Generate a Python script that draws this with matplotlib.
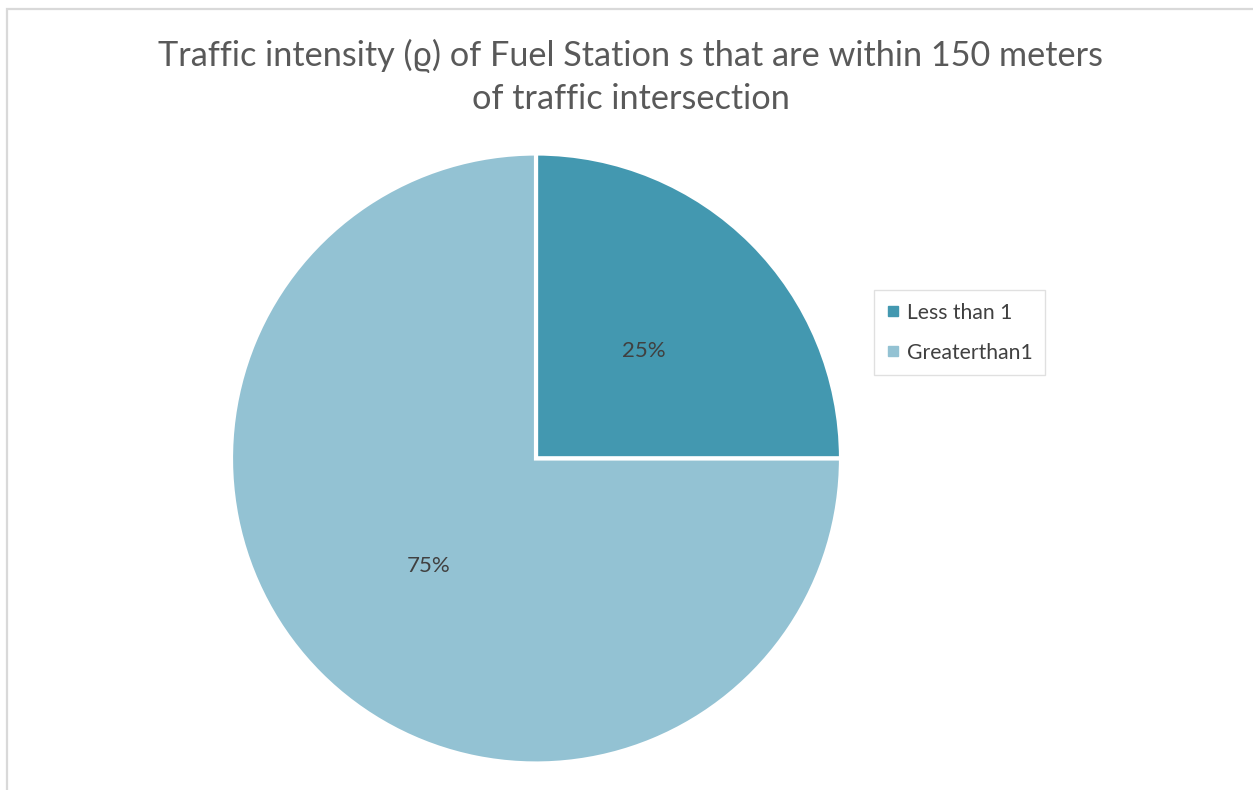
import matplotlib
matplotlib.use("Agg")
import matplotlib.pyplot as plt
from matplotlib.patches import Rectangle
from matplotlib.lines import Line2D

categories = ["Less than 1", "Greaterthan1"]
shares = [25, 75]
colors = ["#4398B0", "#93C2D3"]
title = "Traffic intensity (\u03f1) of Fuel Station s that are within 150 meters\nof traffic intersection"

plt.rcParams["font.family"] = ["Lato", "DejaVu Sans"]

W, H = 1253, 790
fig = plt.figure(figsize=(W / 100, H / 100), dpi=100)
fig.patch.set_facecolor("white")

# outer chart frame (only top and left edges fall inside the canvas)
fig.add_artist(Rectangle((6.5 / W, -0.1), 1.2, (H - 8.5) / H + 0.1,
                         transform=fig.transFigure, fill=False,
                         edgecolor="#D9D9D9", linewidth=1.6))

cx, cy, r = 536, H - 458.5, 305
ax = fig.add_axes([(cx - r) / W, (cy - r) / H, 2 * r / W, 2 * r / H])
wedges, texts, autotexts = ax.pie(
    shares, colors=colors, startangle=90, counterclock=False, radius=1,
    autopct=lambda p: f"{p:.0f}%", pctdistance=0.5,
    wedgeprops=dict(edgecolor="white", linewidth=3),
    textprops=dict(color="#404040", fontsize=16))
ax.set_xlim(-1.0, 1.0)
ax.set_ylim(-1.0, 1.0)
ax.set_aspect("equal")
ax.axis("off")

fig.text(631 / W, 1 - 77 / H, title, ha="center", va="center",
         fontsize=24.7, color="#595959", linespacing=1.4)

handles = [Line2D([], [], marker="s", linestyle="none", markersize=7,
                  markerfacecolor=c, markeredgecolor=c) for c in colors]
leg = fig.legend(handles, categories, loc="upper left",
                 bbox_to_anchor=(874 / W, 1 - 290 / H), frameon=True,
                 fancybox=False, fontsize=15.2, handletextpad=0.35,
                 handlelength=0.6, labelspacing=0.95, borderpad=0.6,
                 borderaxespad=0, labelcolor="#404040")
leg.get_frame().set_edgecolor("#D9D9D9")
leg.get_frame().set_linewidth(1.0)

fig.savefig("out.png", dpi=100, facecolor="white")
